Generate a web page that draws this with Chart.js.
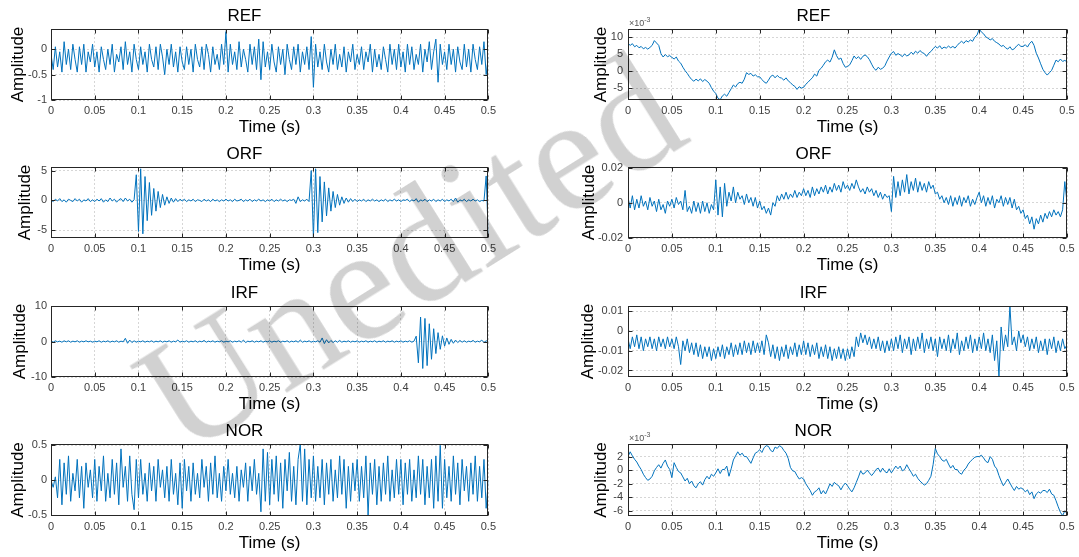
<!DOCTYPE html>
<html>
<head>
<meta charset="utf-8">
<script src="https://cdn.jsdelivr.net/npm/chart.js@4.4.0/dist/chart.umd.min.js"></script>
<style>
  body { margin: 0; background: #fff; width: 1079px; height: 557px; position: relative; overflow: hidden; }
  canvas { position: absolute; }
  #mark {
    position: absolute; left: 409px; top: 252px;
    transform: translate(-50%, -50%) rotate(-32deg);
    font: 164px "Liberation Serif", "DejaVu Serif", serif;
    color: rgba(0, 0, 0, 0.18); white-space: nowrap; line-height: 1;
    pointer-events: none; z-index: 5;
  }
</style>
</head>
<body>
<div id="mark">Unedited</div>
<script>
// time axis 0 .. 0.5 s, ticks every 0.05
const T_END = 0.5;
const xTicks = [0, 0.05, 0.1, 0.15, 0.2, 0.25, 0.3, 0.35, 0.4, 0.45, 0.5];
const xTickLabels = ['0', '0.05', '0.1', '0.15', '0.2', '0.25', '0.3', '0.35', '0.4', '0.45', '0.5'];

// left column (raw signals)
const refLeft = [
  -0.1,-0.4,0.05,-0.35,-0.05,-0.45,0.15,-0.3,0.0,-0.4,0.1,-0.2,-0.45,0.05,-0.3,0.1,-0.45,-0.05,-0.25,0.1,
  -0.35,-0.05,-0.45,0.05,-0.2,-0.4,0.0,-0.3,0.1,-0.45,-0.1,-0.25,0.05,-0.4,0.15,-0.3,-0.05,-0.45,0.1,-0.2,
  -0.4,0.05,-0.3,-0.05,-0.45,0.1,-0.2,-0.35,0.05,-0.4,0.1,-0.15,-0.5,0.0,-0.3,0.1,-0.35,-0.05,-0.45,0.05,
  -0.25,-0.4,0.05,-0.3,0.0,-0.45,0.1,-0.2,-0.35,0.05,-0.4,0.1,-0.1,-0.45,0.05,-0.3,-0.1,-0.4,0.1,-0.3,
  0.35,-0.45,0.1,-0.3,-0.05,-0.4,0.15,-0.35,0.0,-0.2,-0.45,0.1,-0.3,0.05,-0.4,0.2,-0.6,0.15,-0.35,-0.05,
  -0.4,0.1,-0.25,-0.45,0.05,-0.3,0.0,-0.5,0.1,-0.2,-0.4,0.05,-0.3,0.1,-0.45,-0.05,-0.3,0.05,-0.4,0.25,
  -0.75,0.1,-0.35,-0.05,-0.4,0.1,-0.25,-0.45,0.0,-0.3,0.1,-0.4,-0.1,-0.35,0.05,-0.45,-0.05,-0.25,0.1,-0.4,
  -0.1,-0.3,0.05,-0.4,-0.05,-0.25,0.1,-0.45,0.0,-0.35,-0.1,-0.4,0.05,-0.2,-0.45,0.1,-0.3,0.0,-0.4,0.1,
  -0.35,-0.05,-0.45,0.1,-0.3,0.05,-0.4,-0.1,-0.3,0.1,-0.45,0.0,-0.25,0.15,-0.4,-0.05,0.2,-0.65,0.1,-0.3,
  -0.05,-0.4,0.1,-0.3,0.0,-0.45,0.05,-0.25,-0.4,0.1,-0.35,0.0,-0.45,0.1,-0.2,-0.4,0.05,-0.3,0.15,-0.5,-0.15
];
const orfLeft = [
  0.1,-0.2,0.2,-0.1,0.3,-0.2,0.1,-0.3,0.2,0.0,-0.2,0.3,-0.1,0.2,-0.3,0.1,-0.1,0.3,-0.2,0.1,
  -0.2,0.2,-0.1,0.3,-0.3,0.1,-0.2,0.4,-0.1,0.2,-0.3,0.1,0.3,-0.2,0.4,-0.1,0.2,-0.3,0.1,4.3,
  -5.2,5.3,-5.6,4.0,-3.4,3.0,-2.5,2.0,-1.8,1.5,-1.2,1.0,-0.8,0.6,-0.5,0.4,-0.3,0.3,-0.2,0.2,
  -0.1,0.2,-0.2,0.1,-0.1,0.2,-0.2,0.1,0.0,-0.2,0.2,-0.1,0.1,-0.2,0.2,-0.1,0.1,-0.2,0.1,-0.1,
  0.2,-0.1,0.1,-0.2,0.2,-0.1,0.0,0.2,-0.2,0.1,-0.1,0.2,-0.2,0.1,-0.1,0.2,-0.1,0.1,-0.2,0.1,
  -0.1,0.2,-0.2,0.1,-0.1,0.2,-0.1,0.1,-0.2,0.1,0.0,0.2,-0.5,0.6,-0.2,0.1,-0.1,0.2,-0.2,5.0,
  -6.2,5.3,-5.4,4.0,-3.6,3.1,-2.6,2.1,-1.8,1.5,-1.2,1.0,-0.8,0.6,-0.5,0.4,-0.3,0.3,-0.2,0.2,
  -0.2,0.1,-0.1,0.2,-0.2,0.1,-0.1,0.2,-0.1,0.1,-0.2,0.1,-0.1,0.2,-0.2,0.1,-0.1,0.2,-0.1,0.1,
  -0.2,0.1,0.0,0.2,-0.2,0.1,-0.1,0.3,-0.3,0.1,-0.1,0.2,-0.2,0.1,-0.1,0.2,-0.2,0.1,-0.1,0.2,
  -0.2,0.1,-0.1,0.2,-0.2,0.4,-0.3,0.1,-0.1,0.2,-0.2,0.1,-0.1,0.2,-0.1,0.1,-0.2,0.0,-0.1,4.1,-6.2
];
const irfLeft = [
  0.1,-0.2,0.2,-0.1,0.1,-0.2,0.2,-0.1,0.2,-0.2,0.1,-0.1,0.2,-0.2,0.1,-0.1,0.2,-0.1,0.1,-0.2,
  0.1,-0.1,0.2,-0.2,0.1,-0.1,0.2,-0.2,0.1,-0.1,0.2,-0.2,0.1,-0.1,0.9,-0.5,0.4,-0.3,0.2,-0.2,
  0.1,-0.1,0.2,-0.2,0.1,-0.1,0.2,-0.2,0.1,-0.1,0.2,-0.2,0.1,-0.1,0.2,-0.2,0.1,-0.1,0.4,-0.2,
  0.1,-0.1,0.2,-0.2,0.1,-0.1,0.2,-0.2,0.1,-0.1,0.3,-0.2,0.1,-0.1,0.2,-0.2,0.1,-0.1,0.2,-0.2,
  0.1,-0.1,0.2,-0.2,0.1,-0.1,0.2,-0.2,0.4,-0.3,0.1,-0.1,0.2,-0.2,0.1,-0.1,0.2,-0.2,0.1,-0.1,
  0.2,-0.2,0.1,-0.1,0.2,-0.2,0.1,-0.1,0.2,-0.2,0.1,-0.1,0.2,-0.2,0.4,-0.2,0.1,-0.1,0.2,-0.2,
  0.1,-0.1,0.2,-0.2,1.0,-0.6,0.5,-0.4,0.3,-0.3,0.2,-0.2,0.3,-0.2,0.1,-0.1,0.2,-0.2,0.1,-0.1,
  0.2,-0.2,0.1,-0.1,0.2,-0.2,0.1,-0.1,0.2,-0.2,0.1,-0.1,0.2,-0.2,0.1,-0.1,0.2,-0.2,0.1,-0.1,
  0.2,-0.2,0.1,-0.1,0.2,-0.2,0.1,1.5,-6.0,6.9,-7.6,6.5,-6.8,5.0,-5.0,3.6,-3.4,2.5,-2.2,1.6,
  -1.3,1.0,-0.8,0.6,-0.5,0.4,-0.3,0.3,-0.2,0.2,-0.2,0.1,-0.1,0.3,-0.2,0.1,-0.1,0.4,-0.3,0.2,-0.1
];
const norLeft = [
  0.0,-0.1,0.05,-0.25,0.3,-0.35,0.25,-0.2,0.35,-0.3,0.1,-0.15,0.3,-0.25,0.2,-0.4,0.25,-0.1,0.15,-0.25,
  0.3,-0.3,0.2,-0.15,0.35,-0.3,0.1,-0.25,0.3,-0.2,0.25,-0.35,0.45,-0.1,0.2,-0.3,0.35,-0.2,-0.42,0.3,
  -0.25,0.3,-0.2,0.1,-0.3,0.25,-0.15,0.2,-0.3,0.3,-0.1,0.15,-0.25,0.2,-0.3,0.3,-0.2,0.1,-0.35,0.25,
  -0.4,0.3,-0.15,0.2,-0.3,0.25,-0.2,0.1,-0.25,0.3,-0.1,0.2,-0.3,0.25,-0.2,0.35,-0.25,0.1,-0.3,0.2,
  -0.15,0.3,-0.2,0.1,-0.25,0.2,-0.3,0.15,-0.1,0.25,-0.3,0.2,-0.15,0.3,-0.2,0.1,-0.45,0.45,-0.3,0.4,
  -0.35,0.3,-0.2,0.35,-0.3,0.25,-0.4,0.3,-0.15,0.4,-0.3,0.2,-0.35,0.3,0.52,-0.3,0.45,-0.35,0.3,-0.25,
  0.35,-0.3,0.2,-0.25,0.3,-0.35,0.25,-0.2,0.3,-0.3,0.15,-0.25,0.35,-0.2,0.3,-0.4,0.2,-0.3,0.25,-0.15,
  0.3,-0.3,0.2,-0.25,0.35,-0.5,0.25,-0.2,0.3,-0.35,0.2,-0.3,0.25,-0.2,0.35,-0.3,0.15,-0.25,0.3,-0.2,
  0.3,-0.35,0.25,-0.2,0.3,-0.3,0.15,-0.25,0.35,-0.2,0.3,-0.35,0.2,-0.25,0.3,-0.4,0.35,-0.3,0.5,-0.4,
  0.3,-0.25,0.2,-0.3,0.35,-0.2,0.25,-0.35,0.3,-0.15,0.2,-0.3,0.25,-0.2,0.35,-0.3,0.2,-0.25,0.3,-0.4,0.0
];

// right column (x10^-3 for REF and NOR)
const refRight = [
  8.2,7.6,8.1,7.2,7.6,6.9,7.3,6.6,7.0,6.5,7.0,7.6,9.0,8.3,7.6,5.2,4.2,4.9,4.3,4.6,
  4.1,3.6,4.2,3.0,2.4,1.2,0.2,-0.6,-1.6,-2.4,-2.9,-2.3,-2.8,-2.2,-3.0,-2.4,-2.9,-3.5,-4.8,-5.8,
  -6.5,-7.9,-8.3,-7.2,-6.7,-7.3,-6.2,-5.1,-4.0,-4.6,-3.6,-3.2,-3.5,-2.3,-0.4,-0.9,-0.6,-1.4,-1.0,-1.6,
  -1.6,-2.4,-3.1,-3.5,-2.6,-1.5,-1.1,-1.9,-1.2,-1.8,-2.0,-2.6,-1.9,-2.8,-3.3,-4.0,-4.4,-5.3,-4.5,-4.9,
  -4.7,-3.8,-3.2,-2.5,-1.9,-0.8,-1.4,0.3,0.9,1.8,2.8,3.3,2.7,4.1,6.3,4.6,3.5,3.9,2.3,1.2,
  1.4,1.9,3.1,4.5,3.7,4.3,3.5,4.4,4.8,4.3,3.4,2.1,0.9,0.3,1.2,0.6,0.9,1.6,3.0,4.2,
  5.3,5.8,4.7,5.2,4.8,4.3,5.1,4.5,4.8,5.6,5.0,5.9,5.3,6.1,5.5,5.2,4.4,5.3,5.8,6.6,
  7.3,6.8,7.5,6.6,7.1,6.8,7.4,6.9,7.3,6.8,7.6,8.3,8.8,8.2,9.0,8.6,9.2,8.8,10.0,10.6,
  12.4,11.5,11.0,10.1,9.7,9.2,9.6,8.8,8.4,8.0,7.3,7.6,6.9,6.5,7.2,6.3,6.6,7.4,7.9,7.3,
  7.3,7.8,7.1,8.2,8.8,7.6,5.3,3.9,2.2,0.6,-0.4,-1.1,-0.4,0.3,1.8,3.3,2.8,3.6,2.9,3.2,2.8
];
const orfRight = [
  0.003,-0.003,0.004,-0.004,0.002,-0.003,0.004,-0.002,0.001,-0.004,0.003,-0.002,0.001,-0.005,0.002,-0.004,-0.001,-0.006,0.001,-0.002,
  0.002,-0.003,0.003,-0.001,0.001,-0.004,0.007,-0.005,-0.002,-0.006,0.001,-0.005,0.0,-0.006,0.001,-0.005,0.0,-0.006,-0.001,-0.004,
  0.013,-0.007,0.009,-0.008,0.011,-0.002,0.006,0.001,0.009,0.0,0.006,0.002,0.004,-0.001,0.005,0.0,0.003,-0.002,0.003,-0.003,
  0.001,-0.004,-0.002,-0.006,-0.003,-0.007,0.0,-0.002,0.004,0.001,0.005,0.002,0.006,0.002,0.005,0.003,0.007,0.003,0.006,0.004,
  0.008,0.004,0.007,0.003,0.009,0.004,0.008,0.005,0.009,0.006,0.01,0.005,0.009,0.006,0.011,0.007,0.01,0.006,0.012,0.008,
  0.01,0.007,0.011,0.008,0.013,0.009,0.006,0.008,0.005,0.009,0.006,0.008,0.004,0.007,0.003,0.006,0.002,0.005,0.003,0.004,
  -0.005,0.015,0.003,0.012,0.004,0.013,0.006,0.016,0.005,0.012,0.007,0.014,0.006,0.012,0.007,0.011,0.006,0.012,0.008,0.01,
  0.005,0.006,0.002,0.004,0.0,0.003,-0.001,0.004,-0.002,0.003,-0.001,0.004,-0.002,0.003,0.0,0.004,-0.002,0.002,-0.001,0.003,
  0.006,0.0,0.004,-0.002,0.003,-0.001,0.004,-0.003,0.002,0.0,0.004,-0.002,0.003,-0.001,0.003,-0.003,0.002,-0.004,-0.002,-0.006,
  -0.004,-0.009,-0.007,-0.012,-0.008,-0.015,-0.009,-0.012,-0.007,-0.011,-0.006,-0.009,-0.005,-0.008,-0.004,-0.007,-0.005,-0.008,-0.004,0.012,0.0
];
const irfRight = [
  -0.004,-0.009,-0.003,-0.008,-0.002,-0.009,-0.003,-0.01,-0.004,-0.008,-0.003,-0.009,-0.004,-0.01,-0.003,-0.008,-0.004,-0.009,-0.003,-0.008,
  -0.004,-0.009,-0.003,-0.008,-0.017,-0.005,-0.01,-0.004,-0.011,-0.006,-0.012,-0.006,-0.013,-0.007,-0.014,-0.008,-0.013,-0.008,-0.015,-0.009,
  -0.014,-0.008,-0.013,-0.007,-0.014,-0.008,-0.012,-0.006,-0.013,-0.007,-0.012,-0.006,-0.012,-0.005,-0.011,-0.006,-0.012,-0.005,-0.011,-0.006,
  -0.011,-0.005,-0.012,-0.002,-0.006,-0.013,-0.007,-0.014,-0.008,-0.015,-0.008,-0.013,-0.007,-0.014,-0.008,-0.012,-0.006,-0.013,-0.007,-0.012,
  -0.005,-0.012,-0.006,-0.013,-0.007,-0.012,-0.006,-0.014,-0.008,-0.013,-0.007,-0.014,-0.008,-0.015,-0.009,-0.014,-0.008,-0.014,-0.009,-0.015,
  -0.009,-0.014,-0.008,-0.013,-0.003,-0.008,-0.001,-0.006,-0.002,-0.007,-0.003,-0.009,-0.004,-0.009,-0.003,-0.01,-0.005,-0.011,-0.005,-0.01,
  -0.004,-0.01,-0.003,-0.009,-0.002,-0.011,-0.004,-0.009,-0.003,-0.012,-0.004,-0.01,-0.003,-0.009,-0.001,-0.011,-0.004,-0.009,-0.003,-0.01,
  -0.004,-0.013,-0.003,-0.009,-0.004,-0.01,-0.002,-0.011,-0.004,-0.009,-0.001,-0.012,-0.005,-0.01,-0.003,-0.009,-0.002,-0.011,-0.004,-0.01,
  -0.003,-0.009,-0.001,-0.01,-0.004,-0.011,-0.002,-0.015,-0.005,-0.023,0.002,-0.01,-0.002,-0.008,0.0126,-0.007,-0.003,-0.01,0.0,-0.006,
  -0.002,-0.008,-0.003,-0.01,-0.004,-0.009,-0.003,-0.011,-0.005,-0.01,-0.004,-0.012,-0.004,-0.009,-0.003,-0.011,-0.005,-0.01,-0.004,-0.009,-0.007
];
const norRight = [
  2.0,2.7,2.1,1.6,1.2,0.6,0.1,-0.6,-1.1,-1.5,-1.3,-0.9,-0.1,0.4,0.8,0.3,1.0,1.5,0.6,0.1,
  -1.1,1.1,0.4,-0.2,-0.4,-1.0,-1.6,-1.2,-2.0,-1.6,-2.3,-2.6,-2.0,-1.7,-2.2,-1.4,-0.9,-1.3,-0.6,-0.9,
  -0.4,0.2,-0.5,0.1,0.1,0.6,-0.9,0.2,1.5,2.1,2.7,2.2,2.5,2.0,2.0,1.5,1.0,1.8,2.5,2.7,
  3.0,2.6,3.3,3.6,3.5,2.9,2.7,3.4,3.2,3.6,3.4,2.9,2.5,1.7,0.4,-0.1,-0.2,-0.8,-1.3,-1.1,
  -1.3,-2.0,-2.5,-3.0,-3.7,-3.2,-3.0,-2.6,-3.5,-3.0,-3.5,-2.8,-2.0,-2.4,-1.8,-2.1,-2.3,-2.9,-2.3,-1.9,
  -2.3,-2.8,-3.2,-2.6,-1.8,-1.0,-0.1,-0.6,-0.4,0.0,-0.4,-0.8,-0.4,0.1,0.3,-0.3,0.3,-0.2,-0.4,0.2,
  -0.4,0.1,0.6,0.2,0.6,-0.1,0.1,0.8,0.2,-0.3,-0.9,-0.6,-1.2,-1.6,-1.9,-2.2,-2.0,-1.5,-0.9,0.8,
  3.2,2.4,2.0,1.5,1.3,1.6,0.9,0.3,0.7,0.1,0.1,-0.4,-0.6,0.0,0.3,0.9,1.3,1.6,1.9,2.0,
  2.0,2.2,1.8,1.3,1.1,2.0,1.6,0.6,0.2,-0.8,-1.6,-2.3,-1.8,-1.3,-1.9,-2.5,-3.0,-2.4,-2.8,-2.6,
  -2.8,-3.2,-2.9,-3.6,-3.2,-4.2,-3.5,-3.2,-3.4,-3.0,-3.0,-3.3,-2.8,-3.5,-3.7,-4.5,-5.4,-6.2,-6.7,-6.0,-6.4
];

// y ticks per panel
const refLeftTicks = [-1, -0.5, 0], refLeftLabels = ['-1', '-0.5', '0'];
const orfLeftTicks = [-5, 0, 5], orfLeftLabels = ['-5', '0', '5'];
const irfLeftTicks = [-10, 0, 10], irfLeftLabels = ['-10', '0', '10'];
const norLeftTicks = [-0.5, 0, 0.5], norLeftLabels = ['-0.5', '0', '0.5'];
const refRightTicks = [-5, 0, 5, 10], refRightLabels = ['-5', '0', '5', '10'];
const orfRightTicks = [-0.02, 0, 0.02], orfRightLabels = ['-0.02', '0', '0.02'];
const irfRightTicks = [-0.02, -0.01, 0, 0.01], irfRightLabels = ['-0.02', '-0.01', '0', '0.01'];
const norRightTicks = [-6, -4, -2, 0, 2], norRightLabels = ['-6', '-4', '-2', '0', '2'];

const LINE = '#0072BD';
const FONT = '"Liberation Sans", Arial, sans-serif';

const frame = {
  id: 'frame',
  afterDraw(chart) {
    const { ctx, chartArea: a, scales: { x, y } } = chart;
    const l = Math.round(a.left) + 0.5, r = Math.round(a.right) - 0.5;
    const t = Math.round(a.top) + 0.5, b = Math.round(a.bottom) - 0.5;
    ctx.save();
    ctx.strokeStyle = '#262626';
    ctx.lineWidth = 1;
    ctx.strokeRect(l, t, r - l, b - t);
    ctx.beginPath();
    x.ticks.forEach(tk => {
      const px = Math.round(x.getPixelForValue(tk.value)) + 0.5;
      ctx.moveTo(px, b); ctx.lineTo(px, b - 4);
      ctx.moveTo(px, t); ctx.lineTo(px, t + 4);
    });
    y.ticks.forEach(tk => {
      const py = Math.round(y.getPixelForValue(tk.value)) + 0.5;
      ctx.moveTo(l, py); ctx.lineTo(l + 4, py);
      ctx.moveTo(r, py); ctx.lineTo(r - 4, py);
    });
    ctx.stroke();
    const ex = chart.options.plugins.frame.exponent;
    if (ex) {
      ctx.fillStyle = '#555';
      ctx.textBaseline = 'alphabetic';
      ctx.font = '9px ' + FONT;
      ctx.fillText('\u00d710', a.left + 1, a.top - 3);
      const w = ctx.measureText('\u00d710').width;
      ctx.font = '7px ' + FONT;
      ctx.fillText(ex, a.left + 1 + w, a.top - 7);
    }
    ctx.restore();
  }
};

// ampX: centre of the "Amplitude" label, measured from the canvas's left edge
function panel(left, plotTop, plotBottom, col, title, values, yMin, yMax, yTicks, yLabels, ampX, exponent) {
  const yW = col === 0 ? 51 : 68;
  const width = col === 0 ? 500 : 519;
  const padRight = col === 0 ? 11 : 12;
  const top = plotTop - 29;
  const height = plotBottom - plotTop + 69;
  const cv = document.createElement('canvas');
  cv.width = width; cv.height = height;
  cv.style.left = left + 'px'; cv.style.top = top + 'px';
  document.body.appendChild(cv);

  const n = values.length;
  const pts = values.map((v, i) => ({ x: i * T_END / (n - 1), y: v }));

  new Chart(cv, {
    type: 'line',
    data: { datasets: [{ data: pts, borderColor: LINE, borderWidth: 1, pointRadius: 0, tension: 0, fill: false }] },
    options: {
      responsive: false, animation: false, devicePixelRatio: 1,
      layout: { padding: { left: 0, right: padRight, top: 0, bottom: 0 } },
      plugins: {
        legend: { display: false }, tooltip: { enabled: false },
        title: { display: true, text: title, color: '#000', font: { family: FONT, size: 17, weight: 'normal', lineHeight: 1.2 }, padding: { top: 5.8, bottom: 2.8 } },
        frame: { exponent: exponent }
      },
      scales: {
        x: {
          type: 'linear', min: 0, max: T_END,
          afterBuildTicks: s => { s.ticks = xTicks.map(v => ({ value: v })); },
          afterFit: s => { s.height = 40; },
          ticks: { autoSkip: false, maxRotation: 0, padding: 4, color: '#404040', font: { family: FONT, size: 11 }, callback: (v, i) => xTickLabels[i] },
          grid: { color: 'rgba(0,0,0,0.16)', drawTicks: false },
          border: { display: false, dash: [2, 2] },
          title: { display: true, text: 'Time (s)', color: '#000', font: { family: FONT, size: 17, lineHeight: 1.2 }, padding: { top: 0, bottom: 2.3 } }
        },
        y: {
          type: 'linear', min: yMin, max: yMax,
          afterBuildTicks: s => { s.ticks = yTicks.map(v => ({ value: v })); },
          afterFit: s => { s.width = yW; },
          ticks: { padding: col === 0 ? 4 : 5, color: '#404040', font: { family: FONT, size: 11 }, callback: (v, i) => yLabels[i] },
          grid: { color: 'rgba(0,0,0,0.16)', drawTicks: false },
          border: { display: false, dash: [2, 2] },
          title: { display: true, text: 'Amplitude', color: '#000', font: { family: FONT, size: 17, lineHeight: 1.2 }, padding: { top: ampX - 10.2, bottom: 0 } }
        }
      }
    },
    plugins: [frame]
  });
}

panel(0, 29, 100, 0, 'REF', refLeft, -1, 0.4, refLeftTicks, refLeftLabels, 18.5);
panel(0, 167, 238, 0, 'ORF', orfLeft, -6.3, 5.6, orfLeftTicks, orfLeftLabels, 25);
panel(0, 306, 377, 0, 'IRF', irfLeft, -10, 10, irfLeftTicks, irfLeftLabels, 20.5);
panel(0, 444, 516, 0, 'NOR', norLeft, -0.51, 0.52, norLeftTicks, norLeftLabels, 18.5);
panel(560, 29, 100, 1, 'REF', refRight, -8.4, 12.4, refRightTicks, refRightLabels, 41, '-3');
panel(560, 167, 238, 1, 'ORF', orfRight, -0.02, 0.0203, orfRightTicks, orfRightLabels, 29);
panel(560, 306, 377, 1, 'IRF', irfRight, -0.0233, 0.0126, irfRightTicks, irfRightLabels, 28.5);
panel(560, 444, 516, 1, 'NOR', norRight, -6.75, 3.85, norRightTicks, norRightLabels, 41.5, '-3');
</script>
</body>
</html>
